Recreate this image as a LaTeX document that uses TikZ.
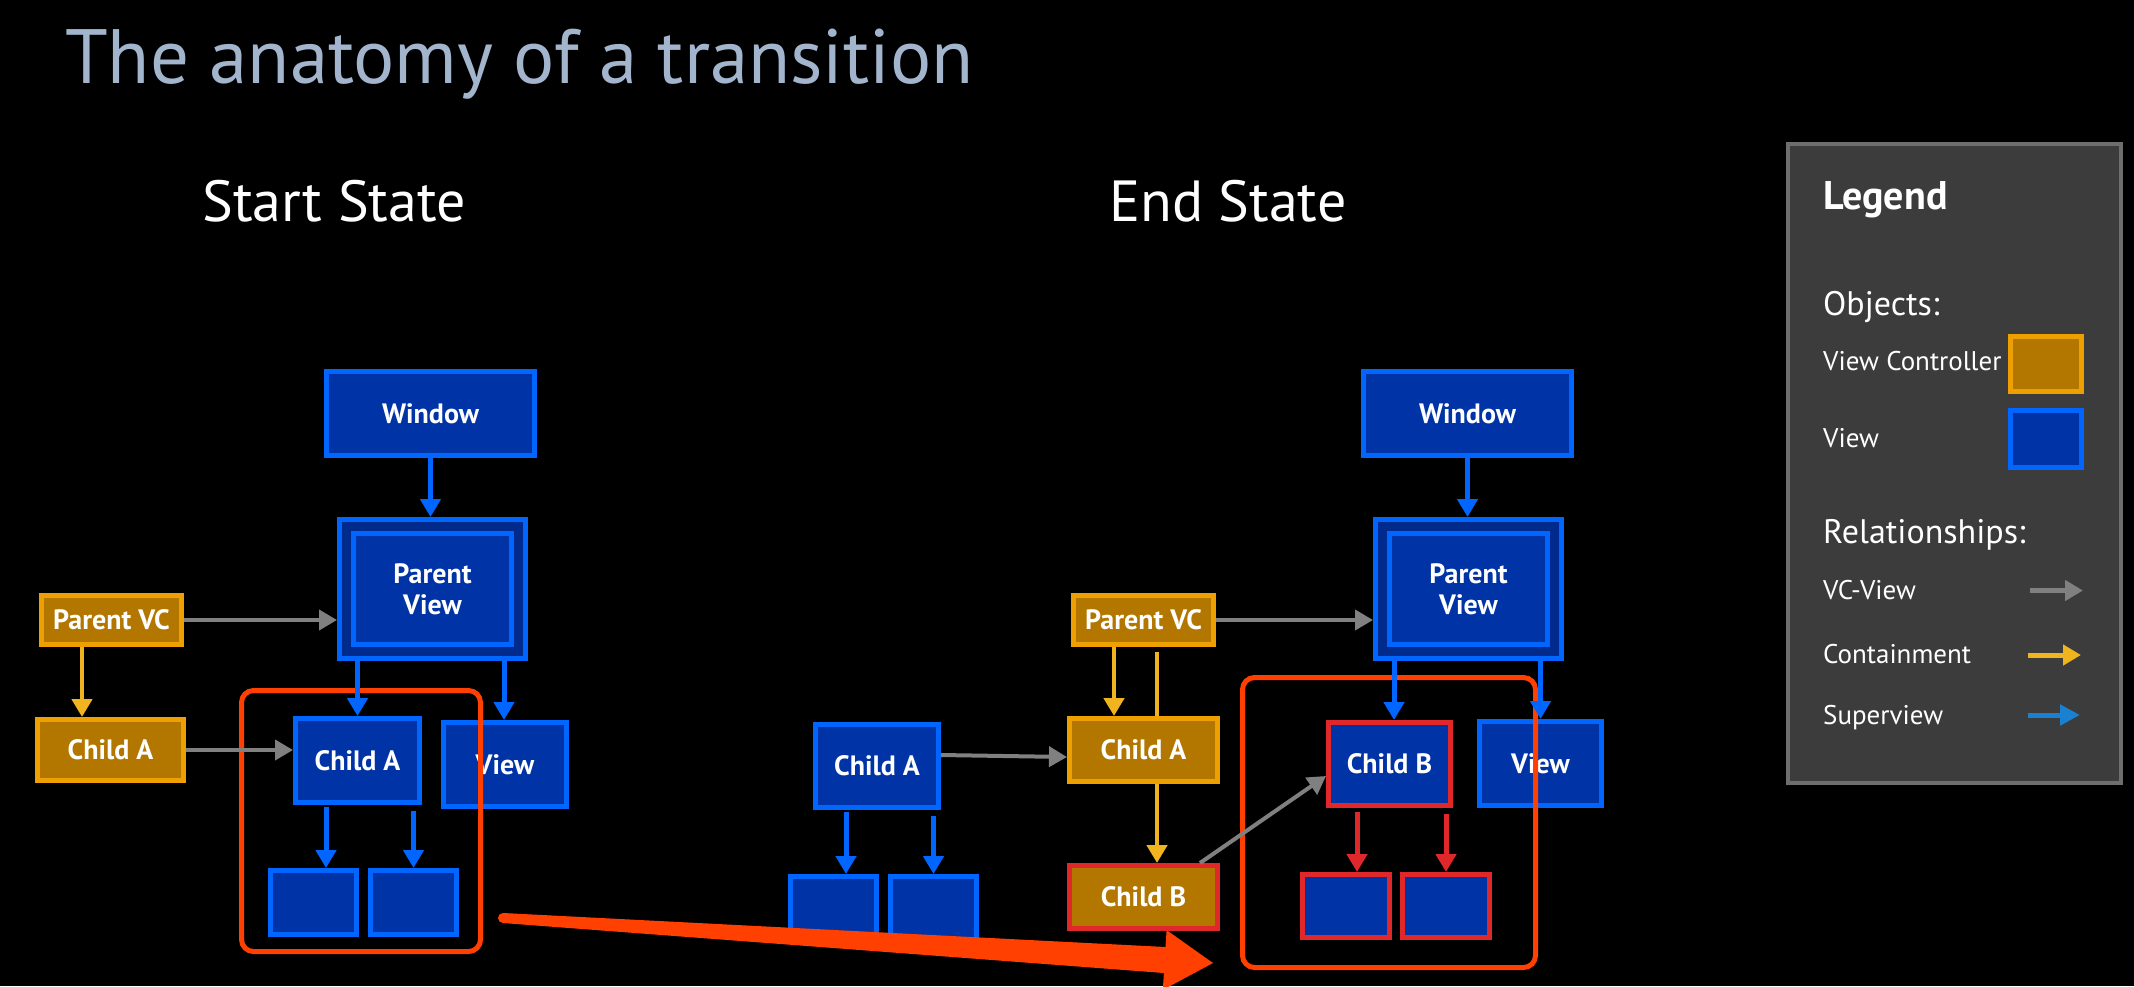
\documentclass[tikz,border=0pt]{standalone}
\usepackage{fontspec}
\setmainfont{PT Sans}
\usetikzlibrary{arrows.meta,calc}
\definecolor{viewfill}{HTML}{0033A6}
\definecolor{viewdark}{HTML}{002A8C}
\definecolor{viewline}{HTML}{0066FF}
\definecolor{vcfill}{HTML}{B37700}
\definecolor{vcline}{HTML}{EDA000}
\definecolor{redline}{HTML}{E0282A}
\definecolor{hot}{HTML}{FF4000}
\definecolor{grayarr}{HTML}{808080}
\definecolor{yelarr}{HTML}{F0B41E}
\definecolor{titlecol}{HTML}{A2B5CD}
\definecolor{legfill}{HTML}{3C3C3C}
\definecolor{legline}{HTML}{6E6E6E}
\definecolor{supblue}{HTML}{1A80D0}
\pgfdeclarelayer{back}
\pgfdeclarelayer{bg}
\pgfsetlayers{back,bg,main}
\tikzset{
  box/.style={rectangle, line width=5pt, outer sep=2.5pt, inner sep=0pt, text=white,
    font=\fontsize{28}{31}\selectfont\bfseries, align=center},
  viewbox/.style={box, fill=viewfill, draw=viewline},
  vcbox/.style={box, fill=vcfill, draw=vcline},
  sz/.style 2 args={minimum width={#1pt-5pt}, minimum height={#2pt-5pt}},
  grp/.style={rectangle, draw=hot, line width=5pt, rounded corners=12pt, inner sep=0pt, outer sep=2.5pt},
  blu/.style={draw=viewline, line width=5pt, -{Triangle[width=20pt,length=18pt]}},
  gry/.style={draw=grayarr, line width=4pt, -{Triangle[width=20pt,length=18pt]}},
  yel/.style={draw=yelarr, line width=4.5pt, -{Triangle[width=20pt,length=18pt]}},
  redarr/.style={draw=redline, line width=5pt, -{Triangle[width=20pt,length=18pt]}},
  lt/.style={anchor=base west, inner sep=0pt, text=white},
}
\begin{document}
\begin{tikzpicture}[x=1pt,y=-1pt]
\useasboundingbox (0,0) rectangle (2134,986);
\begin{pgfonlayer}{back}
\fill[black] (0,0) rectangle (2134,986);
\end{pgfonlayer}

% titles
\node[anchor=base west, inner sep=0pt, text=titlecol, font=\fontsize{77}{77}\selectfont] (title) at (65,83) {The anatomy of a transition};
\node[lt, font=\fontsize{58}{58}\selectfont] (sst) at (202,221) {Start State};
\node[lt, font=\fontsize{58}{58}\selectfont] (est) at (1109,221) {End State};

% ---------- start state ----------
\node[viewbox, sz={213}{89}] (win1) at (430.5,413.5) {Window};
\node[box, fill=viewdark, draw=viewline, sz={191}{144}] (pv1) at (432.5,589) {};
\node[viewbox, sz={163}{116}] (pv1i) at (432.5,589) {Parent\\View};
\node[vcbox, sz={145}{54}] (pvc1) at (111.5,620) {Parent VC};
\node[vcbox, sz={151}{66}] (cao1) at (110.5,750) {Child A};
\node[viewbox, sz={129}{89}] (ca1) at (357.5,760.5) {Child A};
\node[viewbox, sz={128}{89}] (v1) at (505,764.5) {View};
\node[viewbox, sz={91}{69}] (s1a) at (313.5,902.5) {};
\node[viewbox, sz={91}{69}] (s1b) at (413.5,902.5) {};
\node[grp, sz={244}{266}] (grp1) at (361,821) {};

\draw[blu] (win1.south) -- (win1.south |- pv1.north);
\draw[gry] (pvc1.east) -- (pvc1.east -| pv1.west);
\draw[yel] ($(pvc1.south)+(-29.5,0)$) -- ($(cao1.north)+(-28.5,0)$);
\draw[blu] (pv1.south -| ca1.north) -- (ca1.north);
\draw[blu] ($(pv1.south -| v1.north)+(-1,0)$) -- ($(v1.north)+(-1,0)$);
\draw[gry] (cao1.east) -- (cao1.east -| ca1.west);
\draw[blu] ($(ca1.south)+(-31.5,2)$) -- ($(s1a.north)+(12.5,0)$);
\draw[blu] ($(ca1.south -| s1b.north)+(0,6)$) -- (s1b.north);

% ---------- end state ----------
\node[viewbox, sz={213}{89}] (win2) at (1467.5,413.5) {Window};
\node[box, fill=viewdark, draw=viewline, sz={191}{144}] (pv2) at (1468.5,589) {};
\node[viewbox, sz={163}{116}] (pv2i) at (1468.5,589) {Parent\\View};
\node[vcbox, sz={145}{54}] (pvc2) at (1143.5,620) {Parent VC};
\node[vcbox, sz={153}{68}] (cao2) at (1143.5,750) {Child A};
\node[vcbox, draw=redline, sz={153}{68}] (cbo2) at (1143.5,897) {Child B};
\node[viewbox, sz={128}{88}] (ca2) at (877,766) {Child A};
\node[viewbox, sz={91}{69}] (s2a) at (833.5,908.5) {};
\node[viewbox, sz={91}{69}] (s2b) at (933.5,908.5) {};
\node[viewbox, draw=redline, sz={127}{88}] (cb2) at (1389.5,764) {Child B};
\node[viewbox, sz={127}{89}] (v2) at (1540.5,763.5) {View};
\node[viewbox, draw=redline, sz={92}{68}] (s3a) at (1346,906) {};
\node[viewbox, draw=redline, sz={92}{68}] (s3b) at (1446,906) {};
\node[grp, sz={298}{295}] (grp2) at (1389,822.5) {};

\begin{pgfonlayer}{bg}
\draw[yel] ($(pvc2.south)+(13.5,5)$) -- ($(cbo2.north)+(13.5,0)$);
\end{pgfonlayer}
\draw[blu] (win2.south) -- (win2.south |- pv2.north);
\draw[gry] (pvc2.east) -- (pvc2.east -| pv2.west);
\draw[yel] ($(pvc2.south)+(-29.5,0)$) -- ($(cao2.north)+(-29.5,0)$);
\draw[gry] ($(ca2.east)+(0,-11)$) -- ($(cao2.west)+(0,7)$);
\draw[blu] ($(ca2.south)+(-31,2)$) -- ($(s2a.north)+(12.5,0)$);
\draw[blu] ($(ca2.south -| s2b.north)+(0,6)$) -- (s2b.north);
\draw[gry] ($(cbo2.north east)+(-20,0)$) -- ($(cb2.west)+(0,12)$);
\draw[blu] ($(pv2.south -| cb2.north)+(4.5,0)$) -- ($(cb2.north)+(4.5,0)$);
\draw[blu] (pv2.south -| v2.north) -- (v2.north);
\draw[redarr] ($(cb2.south)+(-32.5,4)$) -- ($(s3a.north)+(11,0)$);
\draw[redarr] ($(cb2.south -| s3b.north)+(0,6)$) -- (s3b.north);

% big transition arrow
\coordinate (bigs) at (503,918);
\coordinate (bige) at (1213,963);
\fill[hot] (502.7,923) -- (1163.9,973) -- (1162.8,989.9) -- (bige) -- (1166.6,930.1) -- (1165.5,947) -- (503.3,913) -- cycle;
\fill[hot] (bigs) circle (5);

% ---------- legend ----------
\node[draw=legline, fill=legfill, line width=4pt, minimum width=333pt, minimum height=639pt, inner sep=0pt] (leg) at (1954.5,463.5) {};
\node[lt, font=\fontsize{40}{40}\selectfont\bfseries] (legt) at (1823,209) {Legend};
\node[lt, font=\fontsize{34}{34}\selectfont] (lobj) at (1823,315) {Objects:};
\node[lt, font=\fontsize{27}{27}\selectfont] (lvc) at (1823,370) {View Controller};
\node[vcbox, sz={76}{60}] (swvc) at (2046,364) {};
\node[lt, font=\fontsize{27}{27}\selectfont] (lv) at (1823,447) {View};
\node[viewbox, sz={76}{62}] (swv) at (2046,439) {};
\node[lt, font=\fontsize{34}{34}\selectfont] (lrel) at (1823,543) {Relationships:};
\node[lt, font=\fontsize{27}{27}\selectfont] (lvcv) at (1823,599) {VC-View};
\node[lt, font=\fontsize{27}{27}\selectfont] (lcon) at (1823,663) {Containment};
\node[lt, font=\fontsize{27}{27}\selectfont] (lsup) at (1823,724) {Superview};
\coordinate (a1s) at (2030,590.5); \coordinate (a1e) at (2083,590.5);
\coordinate (a2s) at (2028,655);   \coordinate (a2e) at (2081,655);
\coordinate (a3s) at (2028,715);   \coordinate (a3e) at (2080,715);
\draw[gry, line width=5pt] (a1s) -- (a1e);
\draw[yel, line width=5pt] (a2s) -- (a2e);
\draw[draw=supblue, line width=5pt, -{Triangle[width=20pt,length=20pt]}] (a3s) -- (a3e);
\end{tikzpicture}
\end{document}
